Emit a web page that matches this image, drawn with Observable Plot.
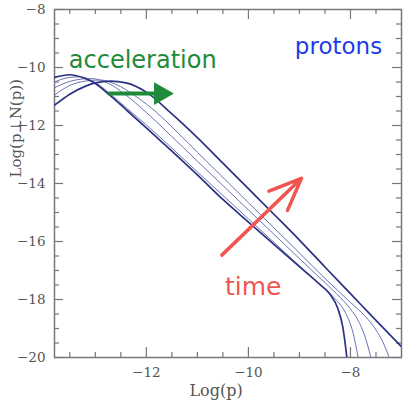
<!DOCTYPE html>
<html>
<head>
<meta charset="utf-8">
<script src="https://cdn.jsdelivr.net/npm/d3@7"></script>
<script src="https://cdn.jsdelivr.net/npm/@observablehq/plot@0.6"></script>
<style>
  html, body { margin: 0; padding: 0; background: #fff; }
</style>
</head>
<body>
<div id="chart"></div>
<script>
// Momentum spectra of accelerated protons at five successive times.
const logP_t1 = [-13.8, -13.5, -13.2, -13.0, -12.7, -12.4, -12.0, -11.5, -11.0, -10.5, -10.0, -9.5, -9.0, -8.6, -8.4, -8.25, -8.15, -8.07];
const logN_t1 = [-10.34, -10.25, -10.38, -10.55, -10.98, -11.45, -12.08, -12.88, -13.7, -14.55, -15.33, -16.1, -16.87, -17.48, -17.82, -18.3, -18.95, -20];

const logP_t2 = [-13.8, -13.5, -13.3, -13.0, -12.7, -12.4, -12.0, -11.5, -11.0, -10.5, -10.0, -9.5, -9.0, -8.6, -8.3, -8.1, -7.95, -7.85];
const logN_t2 = [-10.5, -10.34, -10.32, -10.52, -10.92, -11.38, -11.98, -12.78, -13.6, -14.41, -15.22, -16.03, -16.84, -17.48, -17.98, -18.45, -19.15, -20];

const logP_t3 = [-13.8, -13.5, -13.1, -12.8, -12.4, -12.0, -11.5, -11.0, -10.5, -10.0, -9.5, -9.0, -8.5, -8.2, -8.0, -7.85, -7.72, -7.6];
const logN_t3 = [-10.7, -10.48, -10.38, -10.5, -10.95, -11.55, -12.38, -13.23, -14.07, -14.91, -15.75, -16.59, -17.42, -17.93, -18.33, -18.72, -19.25, -20];

const logP_t4 = [-13.8, -13.5, -13.2, -12.9, -12.6, -12.2, -11.8, -11.4, -11.0, -10.5, -10.0, -9.5, -9.0, -8.5, -8.0, -7.7, -7.5, -7.37, -7.24];
const logN_t4 = [-10.95, -10.62, -10.47, -10.43, -10.58, -11.0, -11.55, -12.22, -12.92, -13.79, -14.66, -15.53, -16.4, -17.27, -18.1, -18.6, -19.05, -19.45, -20];

const logP_t5 = [-13.8, -13.5, -13.2, -13.0, -12.7, -12.4, -12.0, -11.5, -11.0, -10.5, -10.0, -9.5, -9.0, -8.5, -8.0, -7.5, -7.0];
const logN_t5 = [-11.3, -10.92, -10.65, -10.53, -10.47, -10.53, -10.85, -11.6, -12.42, -13.3, -14.18, -15.06, -15.95, -16.88, -17.8, -18.72, -19.63];

// Axis ticks
const xMajor = [-12, -10, -8];
const xMinor = [-13.5, -13, -12.5, -11.5, -11, -10.5, -9.5, -9, -8.5, -7.5];
const yMajor = [-20, -18, -16, -14, -12, -10, -8];
const yMinor = [-19.5, -19, -18.5, -17.5, -17, -16.5, -15.5, -15, -14.5, -13.5, -13, -12.5, -11.5, -11, -10.5, -9.5, -9, -8.5];

// Build the line table
const series = [
  {t: "t1", x: logP_t1, y: logN_t1, bold: true},
  {t: "t2", x: logP_t2, y: logN_t2, bold: false},
  {t: "t3", x: logP_t3, y: logN_t3, bold: false},
  {t: "t4", x: logP_t4, y: logN_t4, bold: false},
  {t: "t5", x: logP_t5, y: logN_t5, bold: true}
];
const rows = series.flatMap(s => s.x.map((x, i) => ({t: s.t, bold: s.bold, logp: x, logn: s.y[i]})));

const W = 403, H = 403;
const mL = 54, mR = 2, mT = 9, mB = 46;
const innerW = W - mL - mR, innerH = H - mT - mB;
const frameColor = "#777";
const serif = "DejaVu Serif, Liberation Serif, serif";
const hand = "Comic Sans MS, DejaVu Sans, sans-serif";
const minus = d => d3.format("")(d);

const chart = Plot.plot({
  width: W,
  height: H,
  marginLeft: mL,
  marginRight: mR,
  marginTop: mT,
  marginBottom: mB,
  style: {fontFamily: serif, color: "#555", background: "#fff"},
  x: {domain: [-13.8, -7.0]},
  y: {domain: [-20, -8]},
  marks: [
    // inward ticks on all four sides
    Plot.tickX(xMinor, {x: d => d, insetTop: innerH - 5, stroke: frameColor, strokeWidth: 1.2}),
    Plot.tickX(xMajor, {x: d => d, insetTop: innerH - 10, stroke: frameColor, strokeWidth: 1.2}),
    Plot.tickX(xMinor, {x: d => d, insetBottom: innerH - 5, stroke: frameColor, strokeWidth: 1.2}),
    Plot.tickX(xMajor, {x: d => d, insetBottom: innerH - 10, stroke: frameColor, strokeWidth: 1.2}),
    Plot.tickY(yMinor, {y: d => d, insetRight: innerW - 5, stroke: frameColor, strokeWidth: 1.2}),
    Plot.tickY(yMajor, {y: d => d, insetRight: innerW - 9, stroke: frameColor, strokeWidth: 1.2}),
    Plot.tickY(yMinor, {y: d => d, insetLeft: innerW - 5, stroke: frameColor, strokeWidth: 1.2}),
    Plot.tickY(yMajor, {y: d => d, insetLeft: innerW - 9, stroke: frameColor, strokeWidth: 1.2}),
    Plot.axisX({ticks: xMajor, tickSize: 0, tickPadding: 10, tickFormat: minus, fontSize: 13.5, label: null}),
    Plot.axisY({ticks: yMajor, tickSize: 0, tickPadding: 9, tickFormat: minus, fontSize: 13.5, label: null}),
    Plot.text(["Log(p)"], {frameAnchor: "bottom", dy: 38, dx: -12, fontSize: 16, fill: "#555", fontFamily: serif}),
    Plot.text(["Log(p\u22a5N(p))"], {frameAnchor: "left", rotate: -90, dx: -38, dy: -6, fontSize: 15, fill: "#555", fontFamily: serif}),
    Plot.frame({stroke: frameColor, strokeWidth: 1.5}),
    // spectra
    Plot.line(rows.filter(d => !d.bold), {x: "logp", y: "logn", z: "t", stroke: "#6b72b4", strokeWidth: 1, curve: "monotone-x", clip: true}),
    Plot.line(rows.filter(d => d.bold), {x: "logp", y: "logn", z: "t", stroke: "#2b3183", strokeWidth: 1.7, curve: "monotone-x", clip: true}),
    // annotations
    Plot.text(["acceleration"], {x: -13.52, y: -10.03, textAnchor: "start", lineAnchor: "bottom", fontSize: 24, fontFamily: hand, fill: "#1e8b3a"}),
    Plot.link([0], {x1: -12.74, y1: -10.9, x2: -11.75, y2: -10.9, stroke: "#1e8b3a", strokeWidth: 4}),
    Plot.dot([0], {x: -11.72, y: -10.9, symbol: "triangle", rotate: 90, r: 7.5, fill: "#1e8b3a", stroke: "#1e8b3a", strokeWidth: 1.5}),
    Plot.text(["protons"], {x: -9.09, y: -9.52, textAnchor: "start", lineAnchor: "bottom", fontSize: 23, fontFamily: hand, fill: "#1d3be6"}),
    Plot.arrow([0], {x1: -10.52, y1: -16.47, x2: -8.96, y2: -13.82, stroke: "#f05550", strokeWidth: 3.5, headLength: 15, headAngle: 45}),
    Plot.text(["time"], {x: -10.46, y: -17.85, textAnchor: "start", lineAnchor: "bottom", fontSize: 25, fontFamily: hand, fill: "#f05550"})
  ]
});
document.getElementById("chart").appendChild(chart);
</script>
</body>
</html>
